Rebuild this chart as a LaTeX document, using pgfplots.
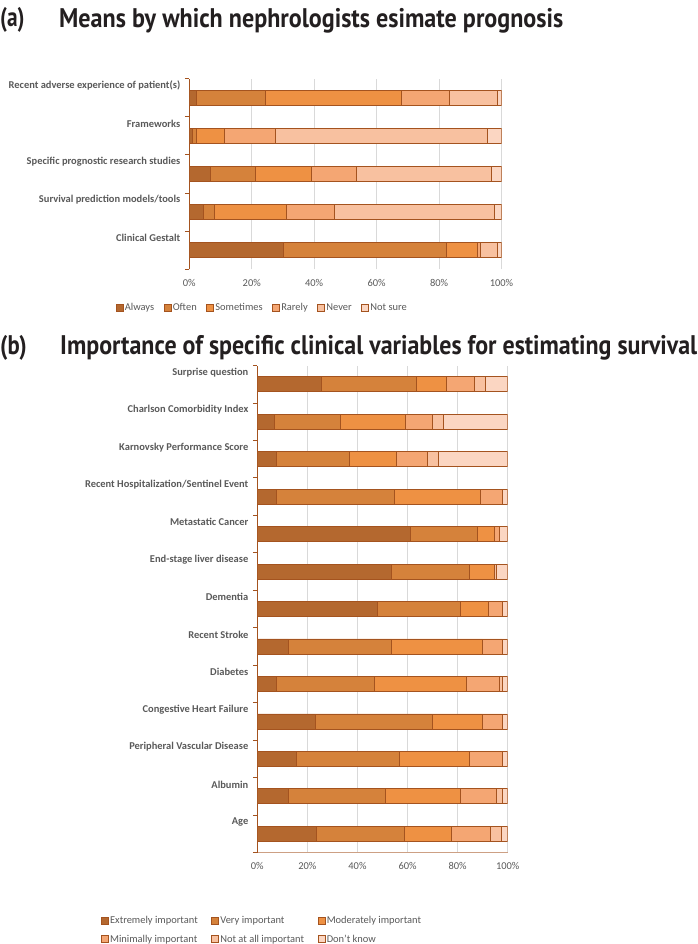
\documentclass[border=0pt]{standalone}
\usepackage{fontspec}
\setmainfont{Carlito}
\newfontfamily\titlefont{PT Sans}
\usepackage{graphicx}
\usepackage{pgfplots}
\usepackage{pgfplotstable}
\pgfplotsset{compat=1.18}

\definecolor{c1}{HTML}{B4682F}
\definecolor{c2}{HTML}{D5823B}
\definecolor{c3}{HTML}{EE9143}
\definecolor{c4}{HTML}{F4A673}
\definecolor{c5}{HTML}{F8C1A0}
\definecolor{c6}{HTML}{FBD6C2}
\definecolor{edge}{HTML}{A4531F}
\definecolor{txt}{HTML}{595959}
\definecolor{gridc}{HTML}{D9D9D9}
\definecolor{titlec}{HTML}{231F20}

% (a) bottom to top: Clinical Gestalt ... Recent adverse experience
\pgfplotstableread{
pos always often sometimes rarely never notsure
0   30.1   52.1  10.0      1.1    5.4   1.3
1   4.5    3.4   23.3      15.4   51.1  2.3
2   6.8    14.4  17.9      14.4   43.1  3.4
3   1.1    1.2   8.8       16.6   67.8  4.5
4   2.3    22.2  43.3      15.4   15.5  1.3
}\meansdata

% (b) bottom to top: Age ... Surprise question
\pgfplotstableread{
pos ext  very mod  mini notall dk
0   23.6 35.3 18.8 15.4 4.5    2.4
1   12.3 38.8 30.0 14.5 2.3    2.1
2   15.6 41.1 27.9 13.3 0.0    2.1
3   23.3 46.7 20.0 7.9  0.0    2.1
4   7.7  39.0 36.8 13.2 1.2    2.1
5   12.3 41.1 36.6 7.9  0.0    2.1
6   47.9 33.2 11.2 5.6  0.0    2.1
7   53.4 31.2 10.1 0.0  0.9    4.4
8   61.3 26.6 6.6  2.3  0.0    3.2
9   7.7  46.9 34.5 8.9  0.0    2.0
10  7.7  29.1 18.7 12.4 4.4    27.7
11  6.8  26.5 25.7 11.0 4.3    25.7
12  25.7 37.8 12.0 11.2 4.5    8.8
}\vardata

\pgfplotsset{
  barchart/.style={
    scale only axis,
    xbar stacked,
    bar width=15bp,
    xmin=0, xmax=100,
    axis x line*=bottom, axis y line*=left,
    y axis line style={draw=edge, line width=0.8bp},
    xtick={0,20,...,100},
    xticklabel={\pgfmathprintnumber{\tick}\%},
    /pgf/number format/assume math mode=true,
    xtick style={draw=none},
    ytick style={draw=edge, line width=0.8bp},
    tick align=outside,
    major tick length=4.5bp,
    xmajorgrids,
    grid style={draw=gridc, line width=0.8bp},
    tick label style={font=\fontsize{10.5}{12}\selectfont, text=txt},
    xticklabel style={yshift=-2bp},
    yticklabel style={font=\bfseries\fontsize{10.5}{12}\selectfont, yshift=-7bp, xshift=-1bp},
    every axis plot/.append style={draw=edge, line width=0.75bp},
    legend cell align=left,
    legend style={draw=none, fill=none, inner sep=0pt,
      font=\fontsize{10.5}{12}\selectfont, text=txt,
      nodes={inner sep=1.5bp},
      /tikz/every even column/.append style={column sep=8bp}},
    legend image code/.code={\draw[##1, line width=0.6bp] (0bp,-3.5bp) rectangle (7bp,3.5bp);},
  },
}

\begin{document}
\begin{tikzpicture}
\path[use as bounding box] (0,0) rectangle (698bp,-944bp);

% titles
\node[anchor=base west, inner sep=0pt, text=titlec] at (0bp,-27bp)
  {\resizebox{24.5bp}{\height}{\titlefont\bfseries\fontsize{27}{30}\selectfont (a)}};
\node[anchor=base west, inner sep=0pt, text=titlec] at (59bp,-27bp)
  {\resizebox{504bp}{\height}{\titlefont\bfseries\fontsize{27}{30}\selectfont Means by which nephrologists esimate prognosis}};
\node[anchor=base west, inner sep=0pt, text=titlec] at (0bp,-354bp)
  {\resizebox{26.7bp}{\height}{\titlefont\bfseries\fontsize{27}{30}\selectfont (b)}};
\node[anchor=base west, inner sep=0pt, text=titlec] at (60bp,-354bp)
  {\resizebox{637bp}{\height}{\titlefont\bfseries\fontsize{27}{30}\selectfont Importance of specific clinical variables for estimating survival}};

% (a)
\begin{axis}[barchart,
  at={(189.3bp,-269.3bp)}, anchor=south west,
  width=312.2bp, height=190.8bp,
  ymin=-0.5, ymax=4.5,
  ytick={-0.5,0.5,...,4.5},
  yticklabels={,Clinical Gestalt,Survival prediction models/tools,Specific prognostic research studies,Frameworks,Recent adverse experience of patient(s)},
  x axis line style={draw=none},
  legend columns=6,
  legend style={at={(0.233,-0.203)}, anchor=center},
]
\addplot[fill=c1] table[x=always, y=pos] {\meansdata};
\addplot[fill=c2] table[x=often, y=pos] {\meansdata};
\addplot[fill=c3] table[x=sometimes, y=pos] {\meansdata};
\addplot[fill=c4] table[x=rarely, y=pos] {\meansdata};
\addplot[fill=c5] table[x=never, y=pos] {\meansdata};
\addplot[fill=c6] table[x=notsure, y=pos] {\meansdata};
\legend{Always,Often,Sometimes,Rarely,Never,Not sure}
\end{axis}

% (b)
\begin{axis}[barchart,
  at={(257.3bp,-852.5bp)}, anchor=south west,
  width=250.4bp, height=487bp,
  ymin=-0.5, ymax=12.5,
  ytick={-0.5,0.5,...,12.5},
  yticklabels={,Age,Albumin,Peripheral Vascular Disease,Congestive Heart Failure,Diabetes,Recent Stroke,Dementia,End-stage liver disease,Metastatic Cancer,Recent Hospitalization/Sentinel Event,Karnovsky Performance Score,Charlson Comorbidity Index,Surprise question},
  x axis line style={draw=edge!55, line width=0.8bp},
  legend columns=3,
  legend style={at={(-0.625,-0.127)}, anchor=north west,
    /tikz/every even column/.append style={column sep=12bp},
    row sep=7bp},
]
\addplot[fill=c1] table[x=ext, y=pos] {\vardata};
\addplot[fill=c2] table[x=very, y=pos] {\vardata};
\addplot[fill=c3] table[x=mod, y=pos] {\vardata};
\addplot[fill=c4] table[x=mini, y=pos] {\vardata};
\addplot[fill=c5] table[x=notall, y=pos] {\vardata};
\addplot[fill=c6] table[x=dk, y=pos] {\vardata};
\legend{Extremely important,Very important,Moderately important,Minimally important,Not at all important,Don't know}
\end{axis}
\end{tikzpicture}
\end{document}
